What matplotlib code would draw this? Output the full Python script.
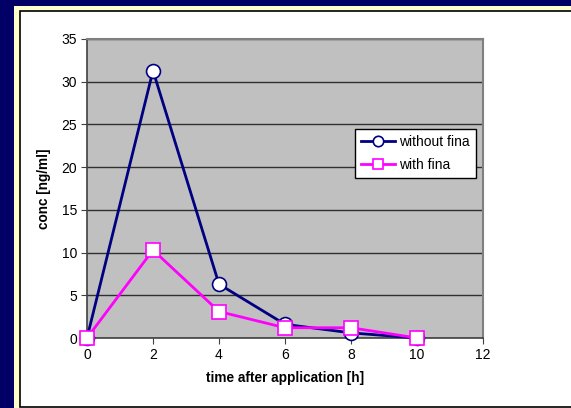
import matplotlib.pyplot as plt
from matplotlib.patches import Rectangle

plt.rcParams['font.family'] = ['Liberation Sans', 'DejaVu Sans']

# Konzentration über die Zeit
zeit = [0, 2, 4, 6, 8, 10]
ohne_fina = [0, 31.3, 6.3, 1.6, 0.6, 0]
mit_fina = [0, 10.3, 3.1, 1.2, 1.2, 0]

fig = plt.figure(figsize=(5.71, 4.08), dpi=100)
fig.patch.set_facecolor('#000066')

# Rahmen um das Diagramm (hinter den Achsen)
fig.patches.append(Rectangle((14 / 571, 0), 1, 1 - 6 / 408, transform=fig.transFigure,
                             facecolor='#ffffcc', edgecolor='none', zorder=-2))
fig.patches.append(Rectangle((20 / 571, 1 / 408), 1, 1 - 12 / 408, transform=fig.transFigure,
                             facecolor='white', edgecolor='black', linewidth=1.2, zorder=-1))

ax = fig.add_axes([87 / 571, 1 - 338 / 408, 396 / 571, 299 / 408])
ax.set_facecolor('#c0c0c0')

ax.plot(zeit, ohne_fina, color='#000080', linewidth=2, marker='o', markersize=10,
        markerfacecolor='white', markeredgecolor='#000080', markeredgewidth=1.2,
        label='without fina', clip_on=False, zorder=3)
ax.plot(zeit, mit_fina, color='#ff00ff', linewidth=2, marker='s', markersize=10,
        markerfacecolor='white', markeredgecolor='#ff00ff', markeredgewidth=1.2,
        label='with fina', clip_on=False, zorder=4)

ax.set_xlim(0, 12)
ax.set_ylim(0, 35)
ax.set_xticks(range(0, 13, 2))
ax.set_yticks(range(0, 36, 5))
ax.yaxis.grid(True, color='#303030', linewidth=1)
ax.set_axisbelow(True)

for s in ['top', 'right']:
    ax.spines[s].set_color('#808080')
    ax.spines[s].set_linewidth(1.5)
for s in ['left', 'bottom']:
    ax.spines[s].set_color('#404040')
    ax.spines[s].set_linewidth(1.2)

ax.tick_params(axis='both', labelsize=10, direction='out', length=4, color='#404040', pad=3)
ax.set_xlabel('time after application [h]', fontsize=9.8, fontweight='bold', labelpad=7)
ax.set_ylabel('conc [ng/ml]', fontsize=9.8, fontweight='bold', labelpad=8)

leg = ax.legend(loc='upper left', bbox_to_anchor=(0.677, 0.699), fontsize=10,
                fancybox=False, framealpha=1, edgecolor='black', handlelength=2.4,
                markerscale=0.75, borderpad=0.45, labelspacing=0.6, handletextpad=0.3,
                borderaxespad=0)
leg.get_frame().set_linewidth(1)

fig.savefig('out.png', dpi=100, facecolor=fig.get_facecolor())
